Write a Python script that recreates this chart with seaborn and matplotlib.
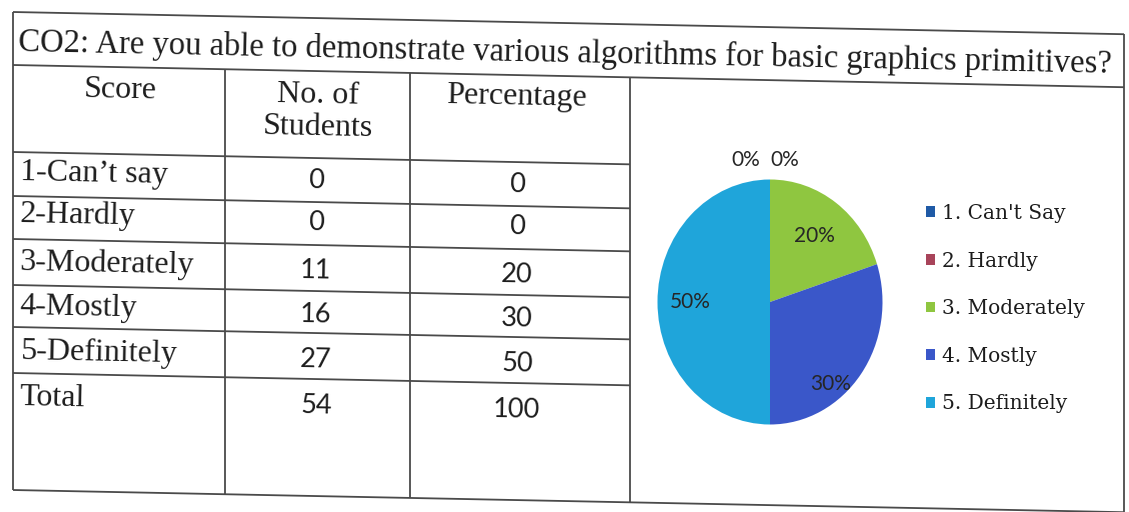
import numpy as np
import matplotlib
matplotlib.use("Agg")
import matplotlib.pyplot as plt
import seaborn as sns

title = "CO2: Are you able to demonstrate various algorithms for basic graphics primitives?"
header = ["Score", "No. of\nStudents", "Percentage"]
scores = ["1-Can\u2019t say", "2-Hardly", "3-Moderately", "4-Mostly", "5-Definitely"]
students = [0, 0, 11, 16, 27]
percentage = [0, 0, 20, 30, 50]
total_label = "Total"
total_students = 54
total_pct = 100
legend_labels = ["1. Can't Say", "2. Hardly", "3. Moderately", "4. Mostly", "5. Definitely"]
pie_colors = ["#1f5aa6", "#a8445a", "#8fc640", "#3a57c9", "#1fa5da"]

# ---- layout (pixels, scan is tilted slightly) ----
W, H = 1129, 512
SLOPE = 0.02
ROT = -np.degrees(np.arctan(SLOPE))
x_left, x_right = 13, 1124
col_x = [225, 410, 630]
y_top, y_title, y_head, y_bottom = 12, 65, 152, 490
row_lines = [196, 239, 285, 327, 373]
row_y = [172, 214, 262, 306, 351, 397]
line_kw = dict(color="#4a4a4a", lw=1.3, solid_capstyle="butt")
ink = "#1c1c1c"


def sk(x, y):
    return y + SLOPE * (x - x_left)


sns.set_theme(style="white")
plt.rcParams['font.family'] = ['Liberation Serif', 'DejaVu Sans']

fig = plt.figure(figsize=(W / 100, H / 100), dpi=100)
ax = fig.add_axes([0, 0, 1, 1])
ax.set_xlim(0, W)
ax.set_ylim(H, 0)
ax.axis("off")

# horizontal rules
for y0, x1, x2 in [(y_top, x_left, x_right), (y_title, x_left, x_right),
                   (y_bottom, x_left, x_right), (y_head, x_left, col_x[2])] + \
                  [(y, x_left, col_x[2]) for y in row_lines]:
    ax.plot([x1, x2], [sk(x1, y0), sk(x2, y0)], **line_kw)
# vertical rules
ax.plot([x_left, x_left], [sk(x_left, y_top), sk(x_left, y_bottom)], **line_kw)
ax.plot([x_right, x_right], [sk(x_right, y_top), sk(x_right, y_bottom)], **line_kw)
for cx in col_x:
    ax.plot([cx, cx], [sk(cx, y_title), sk(cx, y_bottom)], **line_kw)

txt = dict(rotation=ROT, rotation_mode="anchor", color=ink)
ax.text(18, sk(18, 42), title, ha="left", va="center", fontsize=23.5, **txt)

ax.text(120, sk(120, 88), header[0], ha="center", va="center", fontsize=23, **txt)
ax.text(318, sk(318, 105), header[1], ha="center", va="center", fontsize=23,
        linespacing=1.15, **txt)
ax.text(517, sk(517, 87), header[2], ha="center", va="center", fontsize=23, **txt)

num_font = dict(family=["Lato", "DejaVu Sans"], fontsize=19.5)
for i, lab in enumerate(scores + [total_label]):
    ax.text(20, sk(20, row_y[i]), lab, ha="left", va="center", fontsize=23, **txt)
for i, (n, p) in enumerate(zip(students + [total_students], percentage + [total_pct])):
    ax.text(316, sk(316, row_y[i] + 3), str(n), ha="center", va="center", **num_font, **txt)
    ax.text(517, sk(517, row_y[i] + 3), str(p), ha="center", va="center", **num_font, **txt)

# ---- pie ----
cx, cy, rx, ry = 770, 302, 112.5, 122.5
pax = fig.add_axes([(cx - rx) / W, 1 - (cy + ry) / H, 2 * rx / W, 2 * ry / H])
wedges, _, autotexts = pax.pie(percentage, colors=pie_colors, startangle=90,
                               counterclock=False, autopct="%.0f%%",
                               wedgeprops=dict(linewidth=0),
                               textprops=dict(family=["Lato", "DejaVu Sans"],
                                              fontsize=15, color="#262626"))
pax.set_aspect("auto")
pax.set_xlim(-1, 1)
pax.set_ylim(-1, 1)

# label placement: radius, angle tweak, sideways nudge per slice
lab_r = [1.16, 1.16, 0.67, 0.86, 0.71]
lab_da = [0, 0, 0, -15, 0]
lab_dx = [-0.22, 0.13, 0, 0, 0]
for w, t, r, da, dx in zip(wedges, autotexts, lab_r, lab_da, lab_dx):
    ang = np.radians((w.theta1 + w.theta2) / 2 + da)
    t.set_position((r * np.cos(ang) + dx, r * np.sin(ang)))
    t.set_clip_on(False)

fig.legend(wedges, legend_labels, loc="upper left",
           bbox_to_anchor=(926 / W, 1 - 204 / H), frameon=False,
           prop=dict(family="DejaVu Serif", size=14.5), labelcolor=ink,
           handlelength=0.45, handleheight=0.45, handletextpad=0.35,
           labelspacing=1.42, borderpad=0, borderaxespad=0)

fig.savefig("out.png", dpi=100, facecolor="white")
